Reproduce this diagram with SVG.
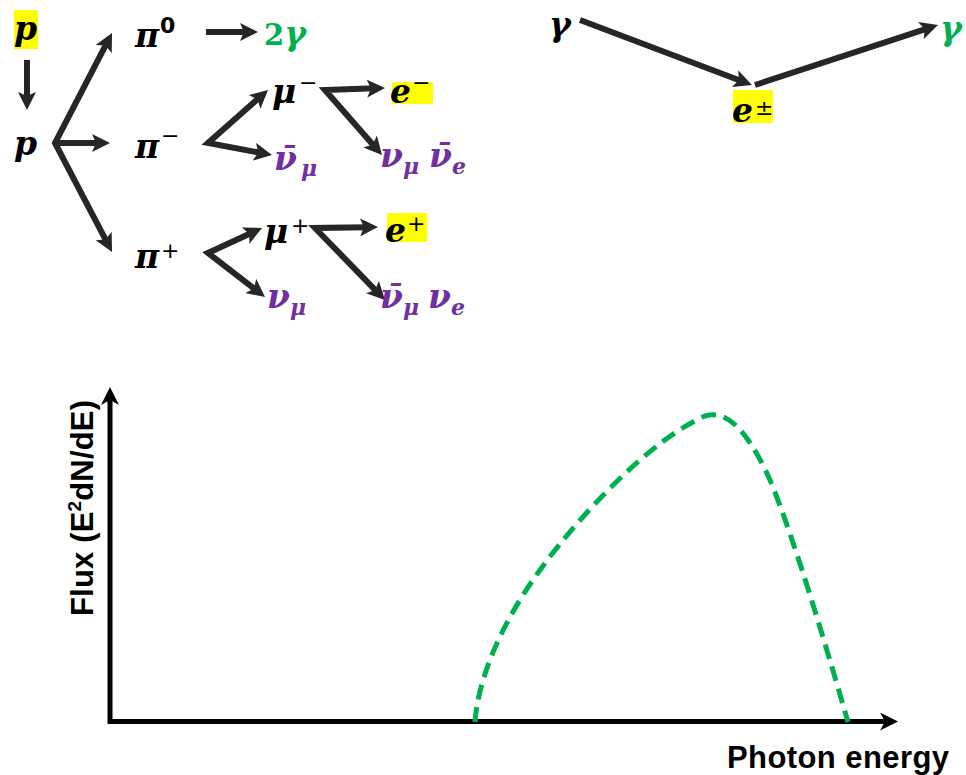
<svg xmlns="http://www.w3.org/2000/svg" width="966" height="775" viewBox="0 0 966 775">
<defs>
<style>
.m{font-family:"DejaVu Serif","Liberation Serif",serif;font-weight:bold;font-style:italic;font-size:33px;fill:#000}
.up{font-style:normal}
.sup{font-family:"DejaVu Sans","Liberation Sans",sans-serif;font-size:22px;fill:#000}
.sub{font-family:"DejaVu Serif","Liberation Serif",serif;font-weight:bold;font-style:italic;font-size:22px}
.pu{fill:#7030A0}
.gr{fill:#00B050}
.hl{fill:#FFFF00}
.arr{fill:none;stroke:#262626;stroke-width:6;stroke-linejoin:miter;marker-end:url(#ah)}
.v{marker-start:url(#ahs)}
.ax{fill:none;stroke:#000;stroke-width:5;marker-end:url(#axh)}
.lab{font-family:"Liberation Sans",Arial,sans-serif;font-weight:bold;font-size:31px;fill:#000}
</style>
<marker id="ah" markerUnits="userSpaceOnUse" viewBox="0 0 18 18" markerWidth="18" markerHeight="18" refX="8" refY="9" orient="auto">
<path d="M0,0 L18,9 L0,18 L4,9 z" fill="#262626"/>
</marker>
<marker id="ahs" markerUnits="userSpaceOnUse" viewBox="0 0 18 18" markerWidth="18" markerHeight="18" refX="8" refY="9" orient="auto-start-reverse">
<path d="M0,0 L18,9 L0,18 L4,9 z" fill="#262626"/>
</marker>
<marker id="axh" markerUnits="userSpaceOnUse" viewBox="0 0 18 18" markerWidth="18" markerHeight="18" refX="8" refY="9" orient="auto">
<path d="M0,0 L18,9 L0,18 L5,9 z" fill="#000"/>
</marker>
</defs>
<rect width="966" height="775" fill="#fff"/>

<g id="connectors">
<path class="arr" d="M206,32 L248,32"/>
<path class="arr" d="M27,60 L27,100"/>
<path class="arr v" d="M107.4,41.9 L55,143 L107.4,243.1"/>
<path class="arr" d="M55,143 L100,143"/>
<path class="arr v" d="M260.5,96.6 L208,143 L262.2,153.2"/>
<path class="arr v" d="M375,88.3 L325,90 L375.4,147.5"/>
<path class="arr v" d="M252.9,232.2 L208,253 L257.1,290.9"/>
<path class="arr v" d="M368,227.2 L315,228 L378,292.8"/>
<path class="arr" d="M580,20 L742.6,81.5"/>
<path class="arr" d="M755,85 L928.5,28.1"/>
</g>

<g id="node-p-top">
<rect class="hl" x="14" y="10" width="24" height="39"/>
<text class="m" x="14" y="40">p</text>
</g>
<g id="node-p">
<text class="m" x="14" y="155">p</text>
</g>
<g id="node-pi0">
<text class="m" x="135" y="47">π</text>
<text class="sup" x="160" y="33" font-weight="bold">0</text>
</g>
<g id="node-2gamma">
<text class="m gr" x="264" y="45" font-size="36"><tspan class="up" font-size="29">2</tspan>γ</text>
</g>
<g id="node-pim">
<text class="m" x="135" y="158">π</text>
<text class="sup" x="161" y="143">−</text>
</g>
<g id="node-pip">
<text class="m" x="135" y="268">π</text>
<text class="sup" x="161" y="258">+</text>
</g>
<g id="node-mum">
<text class="m" x="272" y="103">μ</text>
<text class="sup" x="299" y="90">−</text>
</g>
<g id="node-nubar-mu">
<text class="m pu" x="274" y="170">ν̄</text>
<text class="sub pu" x="301" y="176">μ</text>
</g>
<g id="node-em">
<rect class="hl" x="392" y="82" width="41" height="22"/>
<text class="m" x="390" y="103">e</text>
<text class="sup" x="412" y="90">−</text>
</g>
<g id="node-nu-mu-nubar-e">
<text class="m pu" x="380" y="167">ν</text>
<text class="sub pu" x="403" y="174">μ</text>
<text class="m pu" x="429" y="167">ν̄</text>
<text class="sub pu" x="452" y="174">e</text>
</g>
<g id="node-mup">
<text class="m" x="264" y="243">μ</text>
<text class="sup" x="291" y="233">+</text>
</g>
<g id="node-nu-mu">
<text class="m pu" x="267" y="308">ν</text>
<text class="sub pu" x="290" y="315">μ</text>
</g>
<g id="node-ep">
<rect class="hl" x="387" y="213" width="40" height="29"/>
<text class="m" x="385" y="242">e</text>
<text class="sup" x="407" y="231">+</text>
</g>
<g id="node-nubar-mu-nu-e">
<text class="m pu" x="380" y="308">ν̄</text>
<text class="sub pu" x="403" y="315">μ</text>
<text class="m pu" x="428" y="308">ν</text>
<text class="sub pu" x="451" y="315">e</text>
</g>
<g id="node-gamma-in">
<text class="m" x="549" y="36">γ</text>
</g>
<g id="node-gamma-out">
<text class="m gr" x="940" y="40">γ</text>
</g>
<g id="node-epm">
<rect class="hl" x="733" y="90" width="40" height="33"/>
<text class="m" x="732" y="122">e</text>
<text class="sup" x="755" y="115" font-size="26">±</text>
</g>

<g id="plot">
<path class="ax" d="M110,724 L110,397"/>
<path class="ax" d="M108,721.5 L888,721.5"/>
<path d="M475,722 C478,680 500,625 540,570 C580,515 650,440 705,416 C725,410 745,425 770,480 C795,540 830,660 848,722" fill="none" stroke="#00B050" stroke-width="5" stroke-dasharray="15 8"/>
<text class="lab" transform="translate(93,508) rotate(-90)" text-anchor="middle" textLength="216">Flux (E<tspan font-size="19" dy="-12">2</tspan><tspan dy="12">dN/dE)</tspan></text>
<text class="lab" x="727" y="768" textLength="222">Photon energy</text>
</g>
</svg>
